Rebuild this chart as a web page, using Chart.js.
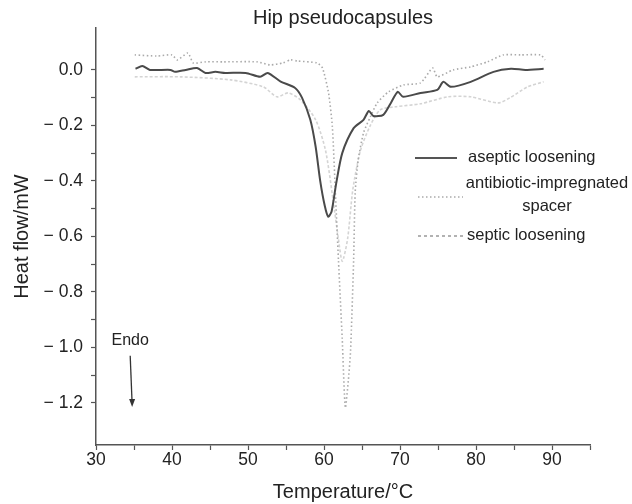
<!DOCTYPE html>
<html>
<head>
<meta charset="utf-8">
<script src="https://cdn.jsdelivr.net/npm/chart.js@4.4.1/dist/chart.umd.min.js"></script>
<style>
  html, body { margin: 0; padding: 0; background: #fff; }
  #wrap { width: 632px; height: 504px; }
</style>
</head>
<body>
<div id="wrap"><canvas id="dsc" width="632" height="504"></canvas></div>
<script>
// temperatures (°C) and heat flow (mW)
var asepticT = [35.2, 36.1, 37.1, 39.8, 40.4, 41.8, 43.3, 44.4, 45.7, 47.0, 49.7, 51.6, 52.6, 54.3, 56.2, 57.1, 58.2, 58.9, 59.5, 60.1, 60.55, 61.0, 61.6, 62.4, 63.9, 65.2, 65.9, 66.5, 67.8, 68.8, 69.7, 70.4, 72.7, 74.9, 75.7, 76.7, 79.3, 82.3, 84.6, 86.5, 88.9];
var asepticV = [0.004, 0.014, 0.0, 0.0, -0.007, 0.0, 0.007, -0.011, -0.007, -0.011, -0.011, -0.025, -0.011, -0.042, -0.065, -0.10, -0.18, -0.277, -0.40, -0.49, -0.529, -0.51, -0.41, -0.30, -0.21, -0.18, -0.148, -0.166, -0.162, -0.119, -0.079, -0.097, -0.083, -0.072, -0.043, -0.061, -0.043, -0.007, 0.004, 0.0, 0.004];

var spacerT = [35.1, 38.0, 40.0, 40.7, 42.1, 42.8, 44.4, 46.8, 51.2, 52.9, 54.6, 55.6, 56.5, 59.1, 59.8, 60.6, 61.1, 61.5, 61.9, 62.4, 62.8, 63.2, 63.5, 63.9, 64.1, 64.5, 65.2, 66.1, 67.0, 68.5, 70.5, 72.7, 74.3, 74.9, 77.0, 79.3, 81.5, 83.6, 85.9, 88.5, 89.1];
var spacerV = [0.054, 0.050, 0.054, 0.036, 0.061, 0.025, 0.029, 0.029, 0.029, 0.018, 0.025, 0.036, 0.032, 0.025, 0.007, -0.083, -0.205, -0.443, -0.685, -0.97, -1.218, -1.12, -1.01, -0.685, -0.443, -0.324, -0.227, -0.169, -0.119, -0.079, -0.054, -0.047, 0.007, -0.025, 0.0, 0.011, 0.029, 0.054, 0.054, 0.054, 0.036];

var septicT = [35.1, 41.1, 47.7, 52.0, 53.8, 55.3, 56.9, 58.9, 60.2, 61.2, 61.9, 62.4, 63.1, 63.8, 64.8, 66.1, 67.4, 69.4, 72.7, 76.3, 79.3, 82.9, 84.5, 86.8, 88.9];
var septicV = [-0.025, -0.025, -0.036, -0.061, -0.097, -0.083, -0.108, -0.18, -0.29, -0.47, -0.61, -0.69, -0.61, -0.43, -0.29, -0.20, -0.144, -0.133, -0.122, -0.097, -0.097, -0.119, -0.10, -0.061, -0.043];

var seriesNames = ['aseptic loosening', 'antibiotic-impregnated spacer', 'septic loosening'];
var chartTitle = 'Hip pseudocapsules';
var xTitle = 'Temperature/\u00B0C';
var yTitle = 'Heat flow/mW';
var endoLabel = 'Endo';

function pts(xs, ys) {
  var out = [];
  for (var i = 0; i < xs.length; i++) out.push({x: xs[i], y: ys[i]});
  return out;
}

var FONT = '"Liberation Sans", Arial, Helvetica, sans-serif';
var AXIS = '#555';

// is this y tick on a 0.1 step inside the drawn range?
function onStep(v) {
  var k = Math.round(v * 10);
  return Math.abs(v * 10 - k) < 1e-6 && k <= 1 && k >= -13;
}

// title, legend and the Endo arrow
var extras = {
  id: 'extras',
  afterDraw: function(chart) {
    var c = chart.ctx, a = chart.chartArea;
    var xs = chart.scales.x, ys = chart.scales.y;
    c.save();
    c.fillStyle = '#222';
    c.textBaseline = 'middle';

    c.font = '20px ' + FONT;
    c.textAlign = 'center';
    c.fillText(chartTitle, (a.left + a.right) / 2, 18);

    // legend
    c.font = '16.5px ' + FONT;
    c.textAlign = 'left';
    c.lineWidth = 2;
    c.strokeStyle = '#555';
    c.beginPath(); c.moveTo(415, 158); c.lineTo(457, 158); c.stroke();
    c.fillText(seriesNames[0], 468, 157);

    c.lineWidth = 1.5;
    c.strokeStyle = '#aaa';
    c.setLineDash([1.5, 2.5]);
    c.beginPath(); c.moveTo(418, 197); c.lineTo(463, 197); c.stroke();
    c.textAlign = 'center';
    c.fillText('antibiotic-impregnated', 547, 183);
    c.fillText('spacer', 547, 206);

    c.strokeStyle = '#999';
    c.setLineDash([3, 3]);
    c.beginPath(); c.moveTo(418, 236); c.lineTo(463, 236); c.stroke();
    c.setLineDash([]);
    c.textAlign = 'left';
    c.fillText(seriesNames[2], 467, 235);

    // Endo arrow
    c.font = '16px ' + FONT;
    c.textAlign = 'center';
    c.fillText(endoLabel, xs.getPixelForValue(34.5), ys.getPixelForValue(-0.975));
    var ax0 = xs.getPixelForValue(34.5), ay0 = ys.getPixelForValue(-1.03);
    var ax1 = xs.getPixelForValue(34.75), ay1 = ys.getPixelForValue(-1.215);
    c.strokeStyle = '#333';
    c.lineWidth = 1.3;
    c.beginPath(); c.moveTo(ax0, ay0); c.lineTo(ax1, ay1 - 4); c.stroke();
    c.fillStyle = '#333';
    c.beginPath();
    c.moveTo(ax1, ay1);
    c.lineTo(ax1 - 3, ay1 - 8);
    c.lineTo(ax1 + 3, ay1 - 8);
    c.closePath(); c.fill();
    c.restore();
  }
};

new Chart(document.getElementById('dsc'), {
  type: 'line',
  data: {
    datasets: [
      {
        label: seriesNames[0],
        data: pts(asepticT, asepticV),
        borderColor: '#4a4a4a',
        borderWidth: 2,
        pointRadius: 0,
        tension: 0.25
      },
      {
        label: seriesNames[1],
        data: pts(spacerT, spacerV),
        borderColor: '#aaa',
        borderWidth: 1.6,
        borderDash: [1.5, 2.5],
        pointRadius: 0,
        tension: 0.2
      },
      {
        label: seriesNames[2],
        data: pts(septicT, septicV),
        borderColor: '#d4d4d4',
        borderWidth: 1.6,
        borderDash: [3, 2],
        pointRadius: 0,
        tension: 0.25
      }
    ]
  },
  options: {
    responsive: false,
    animation: false,
    layout: { padding: { top: 28, right: 42, left: 0, bottom: 0 } },
    plugins: { legend: { display: false }, tooltip: { enabled: false } },
    scales: {
      x: {
        type: 'linear',
        min: 30, max: 95,
        afterFit: function(s) { s.height = 59; },
        border: { color: AXIS, width: 1.5 },
        grid: { drawOnChartArea: false, color: AXIS, tickLength: 5, tickWidth: 1.2 },
        ticks: {
          stepSize: 5, padding: 0, color: '#222', maxRotation: 0, autoSkip: false,
          font: { family: FONT, size: 17.5 },
          callback: function(v) { return v % 10 === 0 && v < 95 ? String(v) : ''; }
        },
        title: { display: true, text: xTitle, color: '#222', font: { family: FONT, size: 20 }, padding: { top: 6, bottom: 0 } }
      },
      y: {
        type: 'linear',
        min: -1.352, max: 0.151,
        afterFit: function(s) { s.width = 96; },
        border: { color: AXIS, width: 1.5 },
        grid: {
          drawOnChartArea: false, tickLength: 5, tickWidth: 1.2,
          color: function(ctx) { return ctx.tick && onStep(ctx.tick.value) ? AXIS : 'rgba(0,0,0,0)'; }
        },
        ticks: {
          stepSize: 0.1, padding: 8, color: '#222', autoSkip: false, maxTicksLimit: 40,
          font: { family: FONT, size: 17.5 },
          callback: function(v) {
            if (!onStep(v)) return '';
            var k = Math.round(v * 10);
            if (k % 2 !== 0 || k > 0) return '';
            return k === 0 ? '0.0' : '\u2212 ' + Math.abs(v).toFixed(1);
          }
        },
        title: { display: true, text: yTitle, color: '#222', font: { family: FONT, size: 20 }, padding: { top: 10, bottom: 0 } }
      }
    }
  },
  plugins: [extras]
});
</script>
</body>
</html>
